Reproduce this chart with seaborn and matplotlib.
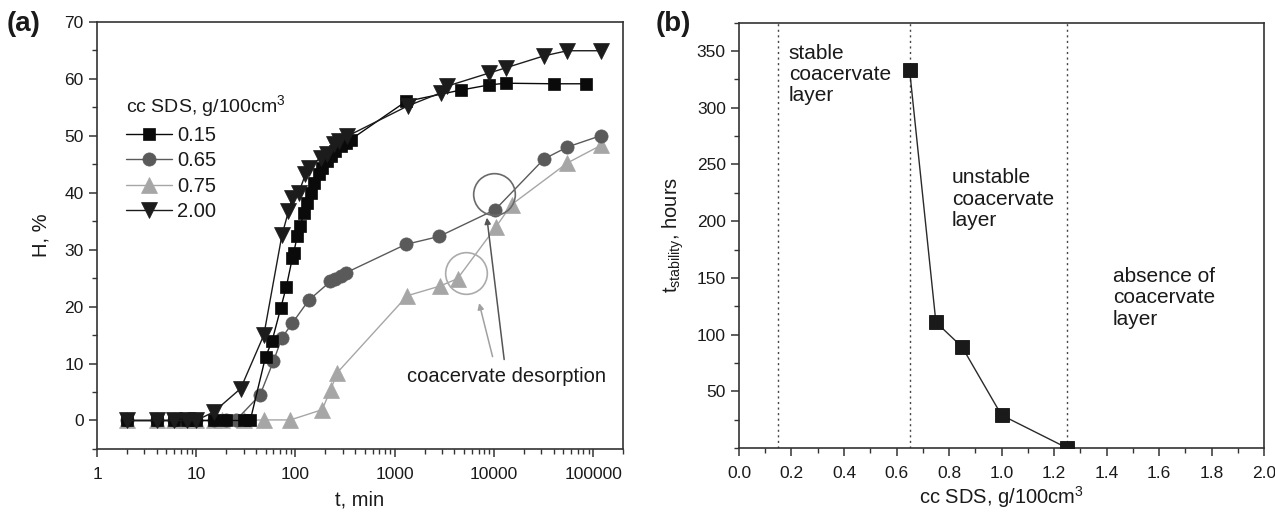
import numpy as np
import pandas as pd
import matplotlib
matplotlib.use("Agg")
import matplotlib.pyplot as plt
from matplotlib.ticker import MultipleLocator, LogLocator, FixedLocator, FuncFormatter, NullFormatter
import seaborn as sns

# ---------------- data: panel (a) ----------------
t_015 = [2, 4, 6, 8, 10, 15, 20, 30, 35, 50, 58, 71, 81, 93, 96, 104, 112, 121, 131, 142, 153,
         172, 186, 209, 226, 253, 285, 320, 360, 1300, 4650, 8950, 13200, 40700, 85000]
h_015 = [0, 0, 0, 0, 0, 0, 0, 0, 0, 11.2, 13.9, 19.7, 23.5, 28.5, 29.4, 32.3, 34.1, 36.4, 38.2, 40.0, 41.7,
         43.2, 44.4, 45.5, 46.4, 47.3, 48.2, 48.7, 49.3, 56.0, 58.0, 58.9, 59.2, 59.1, 59.1]

t_065 = [2, 4, 6, 8, 10, 15, 20, 25, 44, 60, 73, 93, 136, 225, 253, 285, 320, 1290, 2800, 10300,
         32000, 55000, 120000]
h_065 = [0, 0, 0, 0, 0, 0, 0, 0, 4.5, 10.4, 14.5, 17.1, 21.1, 24.4, 24.9, 25.4, 25.9, 30.9, 32.3, 37.0,
         45.9, 48.0, 50.0]

t_075 = [2, 4, 6, 8, 10, 15, 18, 30, 48, 89, 186, 226, 264, 1340, 2870, 4300, 10500, 15100, 55000, 120000]
h_075 = [0, 0, 0, 0, 0, 0, 0, 0, 0.1, 0.1, 1.9, 5.4, 8.4, 21.9, 23.6, 24.9, 34.0, 37.9, 45.2, 48.3]

t_200 = [2, 4, 6, 8, 10, 15, 28, 48, 73, 85, 93, 108, 126, 136, 179, 209, 245, 275, 333, 1350, 2900,
         3400, 9000, 13200, 32000, 55000, 120000]
h_200 = [0, 0, 0, 0, 0, 1.5, 5.6, 15.0, 32.5, 36.7, 39.1, 40.0, 43.2, 44.4, 46.1, 46.7, 48.5, 49.0, 49.9,
         55.2, 57.5, 58.7, 61.0, 61.9, 64.0, 64.9, 64.9]

series_labels = ["0.15", "0.65", "0.75", "2.00"]
xtick_values = [1, 10, 100, 1000, 10000, 100000]
xtick_labels = ["1", "10", "100", "1000", "10000", "100000"]

# annotation points (circles) and arrows in panel (a)
circle_t = [10070, 5210]
circle_h = [39.7, 25.9]
arrow_tail_t = [12700, 9700]
arrow_tail_h = [10.7, 11.2]
arrow_head_t = [8500, 7100]
arrow_head_h = [35.6, 20.6]
annot_text = "coacervate desorption"
annot_t, annot_h = 13500, 7.7

# ---------------- data: panel (b) ----------------
cc_sds = [0.65, 0.75, 0.85, 1.00, 1.25]
t_stab = [333, 111, 89, 29, 0]
boundaries = [0.15, 0.65, 1.25]
region_texts = ["stable\ncoacervate\nlayer", "unstable\ncoacervate\nlayer", "absence of\ncoacervate\nlayer"]
region_x = [0.19, 0.81, 1.425]
region_y = [356.5, 246.5, 159.5]

# ---------------- style ----------------
sns.set_style("ticks")
plt.rcParams["font.family"] = ["Liberation Sans", "DejaVu Sans"]
plt.rcParams["mathtext.fontset"] = "custom"
plt.rcParams["mathtext.rm"] = "Liberation Sans"
plt.rcParams["mathtext.it"] = "Liberation Sans:italic"
plt.rcParams["axes.edgecolor"] = "#333333"
plt.rcParams["axes.linewidth"] = 1.2
TXT = "#1a1a1a"

fig = plt.figure(figsize=(12.75, 5.15), dpi=100)
axA = fig.add_axes([0.0761, 0.1282, 0.4125, 0.8297])
axB = fig.add_axes([0.5796, 0.1301, 0.4118, 0.8258])

# ---------------- panel (a) ----------------
styles = {
    "0.15": dict(t=t_015, h=h_015, marker="s", ms=9, color="#0a0a0a", lw=1.0),
    "0.65": dict(t=t_065, h=h_065, marker="o", ms=9.5, color="#5a5a5a", lw=1.0),
    "0.75": dict(t=t_075, h=h_075, marker="^", ms=11, color="#a6a6a6", lw=1.0),
    "2.00": dict(t=t_200, h=h_200, marker="v", ms=11, color="#1c1c1c", lw=1.0),
}
for lab in ["0.75", "0.65", "0.15", "2.00"]:
    s = styles[lab]
    df = pd.DataFrame({"t": s["t"], "H": s["h"]})
    sns.lineplot(data=df, x="t", y="H", ax=axA, color=s["color"], marker=s["marker"],
                 markersize=s["ms"], markeredgecolor=s["color"], markeredgewidth=0.5,
                 linewidth=s["lw"], estimator=None, sort=False, label=lab)

axA.set_xscale("log")
axA.set_xlim(1, 2e5)
axA.set_ylim(-5, 70)
axA.xaxis.set_major_locator(FixedLocator(xtick_values))
axA.xaxis.set_major_formatter(FuncFormatter(lambda v, p: xtick_labels[xtick_values.index(int(round(v)))] if int(round(v)) in xtick_values else ""))
axA.xaxis.set_minor_locator(LogLocator(base=10, subs=np.arange(2, 10), numticks=20))
axA.xaxis.set_minor_formatter(NullFormatter())
axA.yaxis.set_major_locator(MultipleLocator(10))
axA.yaxis.set_minor_locator(MultipleLocator(5))
axA.tick_params(axis="both", which="major", direction="out", length=6, width=1.1, labelsize=12.5,
                colors="#333333", labelcolor=TXT)
axA.tick_params(axis="both", which="minor", direction="out", length=3.5, width=1.0, colors="#333333")
axA.tick_params(axis="x", which="major", pad=7)
for sp in axA.spines.values():
    sp.set_visible(True)
axA.set_xlabel("t, min", fontsize=14.5, color=TXT, labelpad=6)
axA.set_ylabel("H, %", fontsize=14.5, color=TXT, labelpad=10)

# annotation circles and arrows
axA.plot([circle_t[0]], [circle_h[0]], marker="o", ms=30, mfc="none", mec="#6a6a6a", mew=1.2, ls="none")
axA.plot([circle_t[1]], [circle_h[1]], marker="o", ms=30, mfc="none", mec="#ababab", mew=1.2, ls="none")
axA.annotate("", xy=(arrow_head_t[0], arrow_head_h[0]), xytext=(arrow_tail_t[0], arrow_tail_h[0]),
             arrowprops=dict(arrowstyle="-|>", color="#555555", lw=1.1, mutation_scale=9, shrinkA=0, shrinkB=0))
axA.annotate("", xy=(arrow_head_t[1], arrow_head_h[1]), xytext=(arrow_tail_t[1], arrow_tail_h[1]),
             arrowprops=dict(arrowstyle="-|>", color="#a0a0a0", lw=1.1, mutation_scale=9, shrinkA=0, shrinkB=0))
axA.text(annot_t, annot_h, annot_text, fontsize=14.5, color=TXT, ha="center", va="center")

# legend
handles, labels = axA.get_legend_handles_labels()
order = [labels.index(l) for l in series_labels]
leg = axA.legend([handles[i] for i in order], [labels[i] for i in order],
                 title="cc SDS, g/100cm$^3$", loc="upper left", bbox_to_anchor=(0.055, 0.832),
                 frameon=False, fontsize=14.5, title_fontsize=14, alignment="left",
                 handlelength=2.3, handletextpad=0.25, labelspacing=0.32, borderpad=0,
                 borderaxespad=0, numpoints=1)
for txt in leg.get_texts():
    txt.set_color(TXT)
leg.get_title().set_color(TXT)

# ---------------- panel (b) ----------------
for b in boundaries:
    axB.axvline(b, color="#444444", ls=(0, (1.5, 2.5)), lw=1.0, zorder=1)
dfb = pd.DataFrame({"cc": cc_sds, "t": t_stab})
sns.lineplot(data=dfb, x="cc", y="t", ax=axB, color="#2a2a2a", marker="s", markersize=10.5,
             markeredgecolor="#111111", markerfacecolor="#1a1a1a", markeredgewidth=0.6,
             linewidth=1.0, estimator=None, sort=False, zorder=3)
for tx, xx, yy in zip(region_texts, region_x, region_y):
    axB.text(xx, yy, tx, fontsize=15, color=TXT, ha="left", va="top", linespacing=1.15)

axB.set_xlim(0, 2.0)
axB.set_ylim(0, 375)
axB.xaxis.set_major_locator(MultipleLocator(0.2))
axB.xaxis.set_minor_locator(MultipleLocator(0.1))
axB.xaxis.set_major_formatter(FuncFormatter(lambda v, p: f"{v:.1f}"))
axB.yaxis.set_major_locator(FixedLocator([50, 100, 150, 200, 250, 300, 350]))
axB.yaxis.set_minor_locator(MultipleLocator(25))
axB.tick_params(axis="both", which="major", direction="out", length=6, width=1.1, labelsize=12.5,
                colors="#333333", labelcolor=TXT)
axB.tick_params(axis="both", which="minor", direction="out", length=3.5, width=1.0, colors="#333333")
axB.tick_params(axis="x", which="major", pad=7)
for sp in axB.spines.values():
    sp.set_visible(True)
axB.set_xlabel("cc SDS, g/100cm$^3$", fontsize=14.5, color=TXT, labelpad=2)
axB.set_ylabel("t$_{\\mathrm{stability}}$, hours", fontsize=14.5, color=TXT, labelpad=8)

# panel letters
fig.text(0.005, 0.953, "(a)", fontsize=20, fontweight="bold", color=TXT, ha="left", va="center")
fig.text(0.514, 0.953, "(b)", fontsize=20, fontweight="bold", color=TXT, ha="left", va="center")

fig.savefig("out.png", dpi=100)
